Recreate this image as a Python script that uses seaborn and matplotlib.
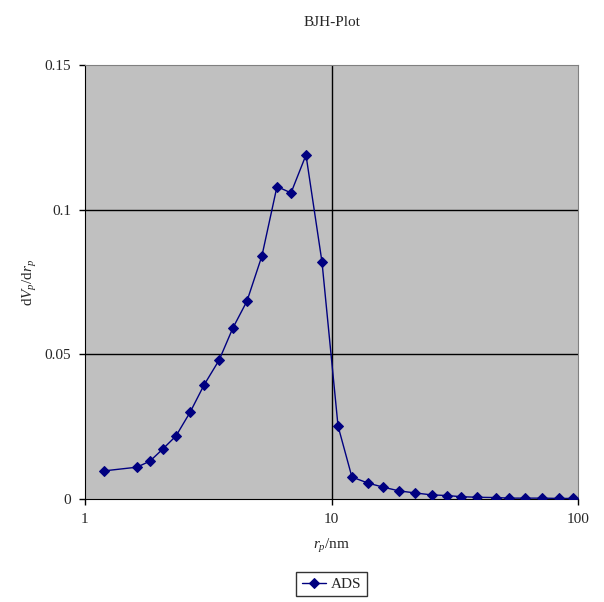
import numpy as np
import pandas as pd
import matplotlib
matplotlib.use('Agg')
import matplotlib.pyplot as plt
import seaborn as sns
from matplotlib.ticker import FixedLocator, NullLocator, FixedFormatter

# pore radius (nm) and dV/dr
radius = [1.19, 1.625, 1.835, 2.07, 2.34, 2.67, 3.04, 3.50, 3.98, 4.54,
          5.22, 6.01, 6.85, 7.88, 9.15, 10.63, 12.1, 14.06, 16.2, 18.8,
          21.8, 25.6, 29.4, 33.5, 38.9, 46.4, 52.5, 61.0, 71.4, 83.7, 95.5]
dvdr = [0.0097, 0.0110, 0.0131, 0.0173, 0.0218, 0.0300, 0.0394, 0.0480, 0.0591, 0.0684,
        0.0840, 0.1080, 0.1058, 0.1189, 0.0819, 0.0252, 0.0076, 0.0055, 0.0041, 0.0028,
        0.0021, 0.0014, 0.0012, 0.0008, 0.0006, 0.0005, 0.0003, 0.0003, 0.0003, 0.0002, 0.0002]
series = 'ADS'

df = pd.DataFrame({'r': radius, 'dv': dvdr, 'series': series})

sns.set_style('white')
plt.rcParams['font.family'] = ['Liberation Serif', 'DejaVu Serif']
plt.rcParams['mathtext.fontset'] = 'custom'
plt.rcParams['mathtext.rm'] = 'Liberation Serif'
plt.rcParams['mathtext.it'] = 'Liberation Serif:italic'

fig = plt.figure(figsize=(6.04, 6.02), dpi=100)
ax = fig.add_axes([0.1407, 0.1711, 0.8163, 0.7209])
ax.set_facecolor('#C0C0C0')

sns.lineplot(data=df, x='r', y='dv', hue='series', palette=['#000080'],
             marker='D', markersize=5, markeredgecolor='#000080', linewidth=1,
             ax=ax, zorder=3)

ax.set_xscale('log')
ax.set_xlim(1, 100)
ax.set_ylim(0, 0.15)
ax.xaxis.set_major_locator(FixedLocator([1, 10, 100]))
ax.xaxis.set_major_formatter(FixedFormatter(['1', '10', '100']))
ax.xaxis.set_minor_locator(NullLocator())
ax.set_yticks([0, 0.05, 0.1, 0.15])
ax.set_yticklabels(['0', '0.05', '0.1', '0.15'])

ax.axvline(10, color='black', linewidth=1, zorder=1)
for yv in [0.05, 0.1]:
    ax.axhline(yv, color='black', linewidth=1, zorder=1)

for side in ['top', 'right']:
    ax.spines[side].set_color('#808080')
for side in ['left', 'bottom']:
    ax.spines[side].set_color('black')
ax.tick_params(axis='both', direction='out', length=4, width=1, labelsize=11,
               bottom=True, left=True, color='black', pad=6)

ax.set_title('BJH-Plot', fontsize=11, pad=28)
ax.set_xlabel(r'$r_p$/nm', fontsize=11, labelpad=8)
ax.set_ylabel(r'd$V_p$/d$r_p$', fontsize=11, labelpad=4)

ax.legend(loc='center', bbox_to_anchor=(0.5, -0.196), frameon=True, fancybox=False,
          edgecolor='black', fontsize=11, handlelength=1.6, handletextpad=0.3,
          borderpad=0.35)
leg = ax.get_legend()
leg.get_frame().set_linewidth(1)

fig.savefig('out.png', dpi=100)
